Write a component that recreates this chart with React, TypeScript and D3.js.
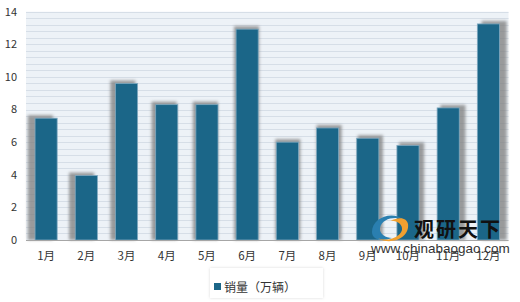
import React from "react";
import * as d3 from "d3";

const months = ["1月", "2月", "3月", "4月", "5月", "6月", "7月", "8月", "9月", "10月", "11月", "12月"];
const sales = [7.47, 3.95, 9.6, 8.3, 8.3, 12.93, 6.0, 6.87, 6.24, 5.8, 8.1, 13.25];
const yTicks = [0, 2, 4, 6, 8, 10, 12, 14];
const seriesName = "销量（万辆）";

const W = 520;
const H = 302;
const M = { left: 26, right: 11.5, top: 11.7, bottom: 62 };
const FONT = "'Noto Sans CJK SC', 'Noto Sans', sans-serif";
const BAR = "#1b6688";

export default function App() {
  const x = d3
    .scaleBand<string>()
    .domain(months)
    .range([M.left, W - M.right])
    .paddingInner(0.45)
    .paddingOuter(0.225);
  const y = d3.scaleLinear().domain([0, 14]).range([H - M.bottom, M.top]);
  const minor = d3.range(0, 14.001, 0.4);
  const midX = (M.left + W - M.right) / 2;

  return (
    <svg
      width={W}
      height={H}
      style={{ position: "absolute", left: 0, top: 0, background: "#fff" }}
      fontFamily={FONT}
    >
      <defs>
        <filter id="blur" x="-50%" y="-50%" width="200%" height="200%">
          <feGaussianBlur stdDeviation="1.4" />
        </filter>
        <filter id="lgshadow" x="-20%" y="-40%" width="140%" height="180%">
          <feGaussianBlur stdDeviation="1.5" />
        </filter>
      </defs>
      {/* plot background */}
      <rect x={M.left} y={y(14)} width={W - M.right - M.left} height={y(0) - y(14)} fill="#edf2f7" />
      {minor.map((v, i) => (
        <line
          key={i}
          x1={M.left}
          x2={W - M.right}
          y1={Math.round(y(v)) + 0.5}
          y2={Math.round(y(v)) + 0.5}
          stroke="#d6dee7"
          strokeWidth={1}
        />
      ))}
      {/* shadows */}
      {months.map((m, i) => {
        const bx = x(m)!;
        const cx = bx + x.bandwidth() / 2;
        const dx = (cx - midX) * 0.026;
        return (
          <rect
            key={"s" + m}
            x={bx + dx - 1.5}
            y={y(sales[i]) - 3}
            width={x.bandwidth() + 3}
            height={y(0) - y(sales[i]) + 3}
            fill="#7d7d7d"
            opacity={0.75}
            filter="url(#blur)"
          />
        );
      })}
      {/* bars */}
      {months.map((m, i) => (
        <rect
          key={m}
          x={x(m)!}
          y={y(sales[i])}
          width={x.bandwidth()}
          height={y(0) - y(sales[i])}
          fill={BAR}
          stroke="#7fa9c0"
          strokeWidth={0.8}
        />
      ))}
      {/* axis line */}
      <line x1={M.left} x2={W - M.right} y1={y(0) + 0.5} y2={y(0) + 0.5} stroke="#a6a6a6" strokeWidth={1} />
      {/* y labels */}
      {yTicks.map((t) => (
        <text key={t} x={17} y={y(t)} dy="0.35em" textAnchor="end" fontSize={11} fill="#333">
          {t}
        </text>
      ))}
      {/* x labels */}
      {months.map((m) => (
        <text key={"l" + m} x={x(m)! + x.bandwidth() / 2} y={260} textAnchor="middle" fontSize={11.5} fill="#333">
          {m}
        </text>
      ))}
      {/* watermark */}
      <g>
        <path d="M372,232 C372,218 392,210 404,220 C396,216 382,218 380,228 C379,234 386,238 392,238 C382,242 372,240 372,232 Z" fill="#2a7fb0" />
        <path d="M408,224 C410,238 390,246 378,238 C386,242 400,238 402,230 C403,224 396,220 390,221 C400,216 407,218 408,224 Z" fill="#f0a030" />
        <text x={414} y={237} fontSize={20} fontWeight="bold" fill="#111" letterSpacing={2}>
          观研天下
        </text>
        <text x={371} y={252.5} fontSize={13.5} fill="#333" fontFamily="'Liberation Sans', Arial, sans-serif">
          www.chinabaogao.com
        </text>
      </g>
      {/* legend */}
      <rect x={210} y={268} width={113} height={30} fill="#999" opacity={0.35} filter="url(#lgshadow)" />
      <rect x={210} y={268} width={113} height={30} fill="#fff" />
      <rect x={214} y={283} width={7} height={7} fill={BAR} />
      <text x={224} y={292} fontSize={12} fill="#333">
        {seriesName}
      </text>
    </svg>
  );
}
